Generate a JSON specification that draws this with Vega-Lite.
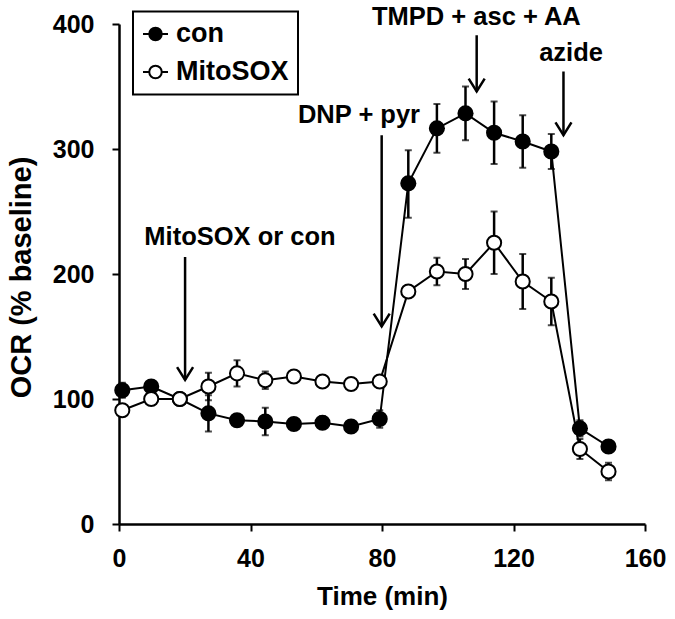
{
  "$schema": "https://vega.github.io/schema/vega-lite/v6.json",
  "width": 526,
  "height": 500,
  "autosize": {"type": "none"},
  "padding": {"left": 119, "top": 24, "right": 30, "bottom": 95},
  "background": "white",
  "config": {
    "view": {"stroke": null},
    "font": "Liberation Sans",
    "axis": {
      "domainColor": "black", "domainWidth": 2.5,
      "tickColor": "black", "tickWidth": 2, "tickSize": 7,
      "labelFont": "Liberation Sans", "labelFontWeight": "bold", "labelFontSize": 25, "labelColor": "black",
      "labelFlush": false, "labelOverlap": false,
      "titleFont": "Liberation Sans", "titleFontWeight": "bold", "titleColor": "black",
      "grid": false
    },
    "legend": {
      "orient": "none", "legendX": 14, "legendY": -12.5,
      "strokeColor": "black", "strokeWidth": 2, "fillColor": "white", "padding": 9,
      "labelFont": "Liberation Sans", "labelFontWeight": "bold", "labelFontSize": 27, "labelColor": "black",
      "symbolSize": 625,
      "symbolType": "M -1 0 L -0.5 0 M 0.5 0 L 1 0 M -0.5 0 A 0.5 0.5 0 1 1 0.5 0 A 0.5 0.5 0 1 1 -0.5 0 Z",
      "symbolStrokeColor": "black", "symbolStrokeWidth": 2,
      "rowPadding": 10, "labelOffset": 7
    }
  },
  "datasets": {
    "obs": [
      {"series": "con", "time": 1, "value": 107, "lo": 101, "hi": 113},
      {"series": "con", "time": 9.8, "value": 110, "lo": 107, "hi": 113},
      {"series": "con", "time": 18.5, "value": 100, "lo": 97, "hi": 103},
      {"series": "con", "time": 27.2, "value": 88.5, "lo": 74, "hi": 103},
      {"series": "con", "time": 35.9, "value": 83, "lo": 80, "hi": 86},
      {"series": "con", "time": 44.5, "value": 82, "lo": 71, "hi": 93},
      {"series": "con", "time": 53.2, "value": 80, "lo": 77, "hi": 83},
      {"series": "con", "time": 61.9, "value": 81, "lo": 76, "hi": 86},
      {"series": "con", "time": 70.6, "value": 78, "lo": 75, "hi": 81},
      {"series": "con", "time": 79.3, "value": 84, "lo": 77, "hi": 91},
      {"series": "con", "time": 88.0, "value": 272.5, "lo": 245, "hi": 299},
      {"series": "con", "time": 96.7, "value": 316.5, "lo": 297, "hi": 336},
      {"series": "con", "time": 105.4, "value": 328.5, "lo": 307, "hi": 350},
      {"series": "con", "time": 114.1, "value": 313, "lo": 288, "hi": 338},
      {"series": "con", "time": 122.8, "value": 306, "lo": 285, "hi": 327},
      {"series": "con", "time": 131.5, "value": 298, "lo": 284, "hi": 312},
      {"series": "con", "time": 140.2, "value": 76.5, "lo": 70, "hi": 83},
      {"series": "con", "time": 148.9, "value": 62, "lo": 59, "hi": 65},
      {"series": "MitoSOX", "time": 1, "value": 91, "lo": 88, "hi": 94},
      {"series": "MitoSOX", "time": 9.8, "value": 100, "lo": 97, "hi": 103},
      {"series": "MitoSOX", "time": 18.5, "value": 100, "lo": 97, "hi": 103},
      {"series": "MitoSOX", "time": 27.2, "value": 110, "lo": 99, "hi": 121},
      {"series": "MitoSOX", "time": 35.9, "value": 120.5, "lo": 110, "hi": 131},
      {"series": "MitoSOX", "time": 44.5, "value": 115, "lo": 108, "hi": 122},
      {"series": "MitoSOX", "time": 53.2, "value": 118, "lo": 115, "hi": 121},
      {"series": "MitoSOX", "time": 61.9, "value": 114, "lo": 111, "hi": 117},
      {"series": "MitoSOX", "time": 70.6, "value": 112, "lo": 109, "hi": 115},
      {"series": "MitoSOX", "time": 79.3, "value": 114, "lo": 111, "hi": 117},
      {"series": "MitoSOX", "time": 88.0, "value": 186, "lo": 183, "hi": 189},
      {"series": "MitoSOX", "time": 96.7, "value": 202, "lo": 191, "hi": 213},
      {"series": "MitoSOX", "time": 105.4, "value": 200, "lo": 188, "hi": 212},
      {"series": "MitoSOX", "time": 114.1, "value": 225, "lo": 200, "hi": 250},
      {"series": "MitoSOX", "time": 122.8, "value": 194, "lo": 172, "hi": 216},
      {"series": "MitoSOX", "time": 131.5, "value": 178, "lo": 159, "hi": 197},
      {"series": "MitoSOX", "time": 140.2, "value": 60, "lo": 52, "hi": 68},
      {"series": "MitoSOX", "time": 148.9, "value": 42, "lo": 35, "hi": 49}
    ],
    "ann": [
      {"label": "MitoSOX or con", "textT": 36.8, "textV": 229.6, "arrowT": 20.1, "top": 213.6, "tip": 115.2},
      {"label": "DNP + pyr", "textT": 73, "textV": 327, "arrowT": 79.9, "top": 311, "tip": 158},
      {"label": "TMPD + asc + AA", "textT": 108.7, "textV": 406, "arrowT": 108.8, "top": 391, "tip": 346},
      {"label": "azide", "textT": 137.5, "textV": 377, "arrowT": 135.2, "top": 362, "tip": 311}
    ]
  },
  "layer": [
    {
      "data": {"name": "obs"},
      "mark": {"type": "line", "color": "black", "strokeWidth": 2},
      "encoding": {
        "x": {"field": "time", "type": "quantitative", "title": "Time (min)",
              "scale": {"domain": [0, 160], "nice": false},
              "axis": {"values": [0, 40, 80, 120, 160], "labelPadding": 15,
                       "titleFontSize": 26, "titleX": 263, "titleY": 72, "titleAlign": "center", "titleBaseline": "middle"}},
        "y": {"field": "value", "type": "quantitative", "title": "OCR (% baseline)",
              "scale": {"domain": [0, 400], "nice": false},
              "axis": {"values": [0, 100, 200, 300, 400], "labelPadding": 18,
                       "titleFontSize": 29, "titleX": -98, "titleY": 253, "titleAngle": -90, "titleAlign": "center", "titleBaseline": "middle"}},
        "detail": {"field": "series"}
      }
    },
    {
      "data": {"name": "obs"},
      "mark": {"type": "errorbar", "color": "black", "ticks": {"size": 7, "thickness": 2}, "rule": {"strokeWidth": 2.5}},
      "encoding": {
        "x": {"field": "time", "type": "quantitative", "title": "Time (min)"},
        "y": {"field": "lo", "type": "quantitative", "title": "OCR (% baseline)"},
        "y2": {"field": "hi"}
      }
    },
    {
      "data": {"name": "obs"},
      "mark": {"type": "point", "shape": "circle", "size": 200, "stroke": "black", "strokeWidth": 2, "opacity": 1, "filled": true},
      "encoding": {
        "x": {"field": "time", "type": "quantitative", "title": "Time (min)"},
        "y": {"field": "value", "type": "quantitative", "title": "OCR (% baseline)"},
        "fill": {"field": "series", "type": "nominal",
                 "scale": {"domain": ["con", "MitoSOX"], "range": ["black", "white"]},
                 "legend": {"title": null}}
      }
    },
    {
      "data": {"name": "ann"},
      "mark": {"type": "rule", "color": "black", "strokeWidth": 2.5},
      "encoding": {
        "x": {"field": "arrowT", "type": "quantitative", "title": "Time (min)"},
        "y": {"field": "top", "type": "quantitative", "title": "OCR (% baseline)"},
        "y2": {"field": "tip"}
      }
    },
    {
      "data": {"name": "ann"},
      "mark": {"type": "point", "shape": "M -1 -1.6 L 0 0 L 1 -1.6", "size": 256, "filled": false, "stroke": "black", "strokeWidth": 2.5, "opacity": 1},
      "encoding": {
        "x": {"field": "arrowT", "type": "quantitative", "title": "Time (min)"},
        "y": {"field": "tip", "type": "quantitative", "title": "OCR (% baseline)"}
      }
    },
    {
      "data": {"name": "ann"},
      "mark": {"type": "text", "font": "Liberation Sans", "fontWeight": "bold", "fontSize": 25.5, "color": "black", "align": "center", "baseline": "middle"},
      "encoding": {
        "x": {"field": "textT", "type": "quantitative", "title": "Time (min)"},
        "y": {"field": "textV", "type": "quantitative", "title": "OCR (% baseline)"},
        "text": {"field": "label"}
      }
    }
  ]
}
